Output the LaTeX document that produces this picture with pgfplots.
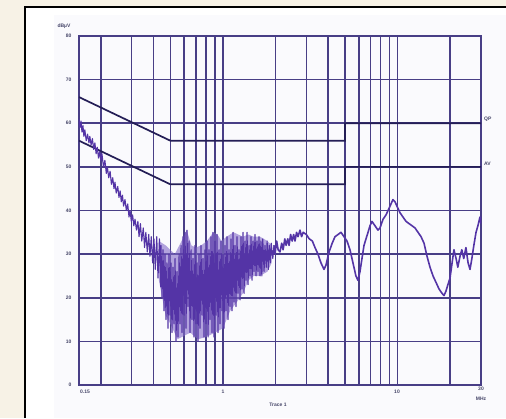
\documentclass[border=0pt]{standalone}
\usepackage{pgfplots}
\pgfplotsset{compat=1.18}
\usepackage{fontspec}
\setmainfont{Liberation Sans}
\definecolor{beige}{RGB}{247,242,230}
\definecolor{panelg}{RGB}{250,250,253}
\definecolor{gridc}{RGB}{72,62,134}
\definecolor{limc}{RGB}{36,30,86}
\definecolor{tracec}{RGB}{84,52,166}
\definecolor{bandc}{RGB}{130,106,200}
\definecolor{labc}{RGB}{70,70,105}
\tikzset{lab/.style={font=\fontsize{5}{5.5}\selectfont\bfseries, text=labc, inner sep=0pt}}
\begin{document}
\begin{tikzpicture}[x=1pt,y=1pt]
\useasboundingbox (0,0) rectangle (506,418);
\fill[beige] (0,0) rectangle (506,418);
\fill[white] (25,0) rectangle (506,411);
\fill[panelg] (54,0) rectangle (506,403);
\draw[black, line width=1.6pt] (25,0) -- (25,411) -- (506,411);
\begin{axis}[at={(79pt,33pt)}, anchor=south west, scale only axis,
  width=402pt, height=349pt,
  xmode=log, log basis x=10, xmin=0.15, xmax=30, ymin=0, ymax=80,
  xtick={0.15,1,10,30}, xticklabel=\empty,
  minor xtick={0.2,0.3,0.4,0.5,0.6,0.7,0.8,0.9,2,3,4,5,6,7,8,9,20},
  ytick={0,10,20,30,40,50,60,70,80},
  grid=both,
  major grid style={gridc, line width=1.5pt},
  minor grid style={gridc, line width=1.5pt},
  axis line style={gridc, line width=1.7pt},
  major tick length=0pt, minor tick length=0pt,
  yticklabel style={font=\fontsize{5}{5.5}\selectfont\bfseries, text=labc, xshift=-4pt},
  /pgf/number format/assume math mode=true,
]
% limit lines
\addplot[limc, line width=1.7pt] coordinates {(0.15,66) (0.5,56) (5,56) (5,60) (30,60)};
\addplot[limc, line width=1.7pt] coordinates {(0.15,56) (0.5,46) (5,46) (5,50) (30,50)};
% dense band of the measured trace (envelope)
\addplot[draw=none, fill=bandc, fill opacity=0.6] coordinates {
(0.43,33) (0.47,32) (0.53,30) (0.58,33) (0.62,35.5) (0.66,32) (0.70,31.5) (0.75,32)
(0.81,33) (0.88,35) (0.93,34.5) (0.98,33) (1.05,34) (1.15,35) (1.3,34) (1.4,34.5)
(1.5,34) (1.63,34) (1.8,33) (1.9,32)
(1.9,28) (1.8,26) (1.63,25) (1.5,25) (1.4,24) (1.3,21) (1.2,19) (1.1,17) (1.0,13)
(0.9,12) (0.8,11) (0.72,10.5) (0.65,12) (0.55,10.5) (0.5,14) (0.47,16) (0.43,24)
} -- cycle;
% measured trace, below 2 MHz
\addplot[tracec, line width=1.1pt, line join=round] coordinates {
(0.150,61) (0.152,59) (0.154,60.5) (0.156,58) (0.158,59.5) (0.160,57) (0.162,58.5)
(0.165,56) (0.168,57.5) (0.171,55.5) (0.173,57) (0.176,55) (0.179,56.5) (0.182,54)
(0.185,55.5) (0.188,53) (0.191,54.5) (0.194,52) (0.197,53.5) (0.200,51.5) (0.203,53)
(0.207,50) (0.211,51.5) (0.215,48.5) (0.218,50) (0.222,47.5) (0.226,49) (0.230,46)
(0.234,47.5) (0.238,45) (0.241,46.5) (0.245,44) (0.250,45.5) (0.254,43) (0.258,44.5)
(0.262,42) (0.266,43.5) (0.270,41) (0.275,42.5) (0.280,40) (0.285,41.5) (0.290,38.5)
(0.294,40) (0.299,37.5) (0.304,39) (0.309,36.5) (0.314,38) (0.320,35.5) (0.326,37.5)
(0.331,34) (0.337,37) (0.343,33) (0.350,36) (0.356,31.5) (0.362,35) (0.369,30.5)
(0.376,34.5) (0.382,29.5) (0.389,34) (0.396,28) (0.403,33.5) (0.410,26.5) (0.418,34)
(0.425,24.5) (0.433,33.5) (0.440,22.5)
(0.442,32) (0.448,20) (0.454,31) (0.460,17) (0.466,30) (0.472,15) (0.478,28) (0.485,13)
(0.491,30) (0.498,16) (0.504,28) (0.511,12) (0.518,27) (0.525,14) (0.532,29) (0.539,10)
(0.546,26) (0.553,11) (0.561,30) (0.568,14) (0.576,32) (0.583,12) (0.591,34) (0.599,16)
(0.607,35) (0.615,13) (0.623,35.5) (0.631,18) (0.640,33) (0.648,12) (0.657,31) (0.665,15)
(0.674,29) (0.683,11) (0.692,32) (0.701,14) (0.711,28) (0.720,10) (0.730,30) (0.739,13)
(0.749,32) (0.759,16) (0.769,29) (0.779,11) (0.790,31) (0.800,14) (0.811,33) (0.822,11)
(0.832,31) (0.843,15) (0.855,34) (0.866,12) (0.877,35) (0.889,11) (0.901,33) (0.913,16)
(0.925,34.5) (0.937,12) (0.950,31) (0.962,14) (0.975,33) (0.988,17) (1.001,30) (1.014,13)
(1.028,32) (1.041,17) (1.055,34) (1.069,15) (1.083,31) (1.098,18) (1.112,33.5) (1.127,17)
(1.142,35) (1.157,19) (1.173,32) (1.188,18) (1.204,34) (1.220,21) (1.236,31) (1.253,19.5)
(1.269,34) (1.286,22) (1.303,35) (1.321,21) (1.338,33) (1.356,24) (1.374,35) (1.392,23)
(1.411,32) (1.429,25) (1.448,34) (1.468,24) (1.487,33) (1.507,26) (1.526,34.5) (1.547,25)
(1.567,33) (1.588,26) (1.609,34) (1.630,25)
(1.65,33) (1.67,25) (1.69,33.5) (1.72,26) (1.74,32) (1.77,27) (1.79,33) (1.82,26.5)
(1.84,32) (1.87,28) (1.89,32.5) (1.93,29) (1.96,32) (1.986,30)
};
% measured trace, above 2 MHz
\addplot[tracec, line width=1.6pt, line join=round] coordinates {
(1.96,32) (1.986,30) (2.03,33) (2.07,31)
(2.121,30.5) (2.17,32.5) (2.21,31) (2.26,33.5) (2.30,32) (2.35,33.5) (2.39,32) (2.44,34.5)
(2.49,33) (2.54,34.5) (2.585,33) (2.64,35) (2.69,34) (2.761,35.5) (2.82,34) (2.88,35)
(3.00,34.5) (3.12,33.5) (3.25,33) (3.365,31.5) (3.50,30) (3.64,28) (3.79,26.5) (3.89,27.5)
(4.05,30.5) (4.22,32.5) (4.379,34) (4.56,34.5) (4.74,35) (4.93,34) (5.13,33) (5.336,31)
(5.55,28) (5.77,25) (5.93,24) (6.088,26) (6.25,29) (6.42,32) (6.59,33.5) (6.77,35)
(6.945,36.5) (7.13,37.5) (7.419,36.5) (7.72,35.5) (7.924,36) (8.25,38) (8.58,39) (8.93,40.5)
(9.16,41.5) (9.40,42.5) (9.656,42) (9.91,41) (10.31,39.5) (10.73,38.5) (11.17,37.5)
(11.62,37) (12.09,36.5) (12.57,36) (13.08,35) (13.61,34) (14.16,32.5) (14.73,29.5)
(15.32,27) (15.94,25) (16.59,23.5) (17.26,22) (17.96,21) (18.42,20.5) (18.9,21.5)
(19.4,23) (19.94,24.5) (20.5,28) (21.0,31) (21.6,29) (22.1,27) (22.75,29.5) (23.3,31)
(23.9,29) (24.6,31.5) (25.3,28) (25.96,26.5) (26.6,29) (27.3,32) (28.1,35) (28.8,36.5)
(29.6,38.5) (30.0,37)
};
\end{axis}
% text labels
\node[lab] at (64,392) {dB\textmu V};
\node[lab] at (85,26) {0.15};
\node[lab] at (223,26) {1};
\node[lab] at (397,26) {10};
\node[lab] at (481,29) {30};
\node[lab] at (481,19) {MHz};
\node[lab] at (278,13) {Trace 1};
\node[lab, anchor=west] at (484,299) {QP};
\node[lab, anchor=west] at (484,254) {AV};
\end{tikzpicture}
\end{document}
